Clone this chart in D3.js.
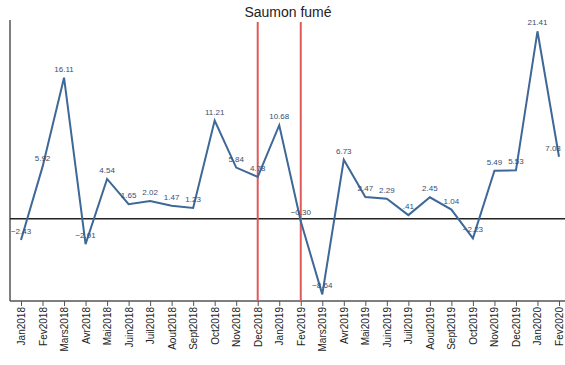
<!DOCTYPE html>
<html>
<head>
<meta charset="utf-8">
<script src="https://cdn.jsdelivr.net/npm/d3@7"></script>
<style>
  body { margin: 0; background: #fff; }
  svg { display: block; font-family: Arial, "Liberation Sans", sans-serif; }
</style>
</head>
<body>
<div id="body"></div>
<script>
var months = ["Jan2018","Fev2018","Mars2018","Avr2018","Mai2018","Juin2018","Juil2018","Aout2018","Sept2018","Oct2018","Nov2018","Dec2018",
              "Jan2019","Fev2019","Mars2019","Avr2019","Mai2019","Juin2019","Juil2019","Aout2019","Sept2019","Oct2019","Nov2019","Dec2019",
              "Jan2020","Fev2020"];
var values = [-2.43, 5.92, 16.11, -2.91, 4.54, 1.65, 2.02, 1.47, 1.23, 11.21, 5.84, 4.78,
              10.68, -0.30, -8.64, 6.73, 2.47, 2.29, 0.41, 2.45, 1.04, -2.23, 5.49, 5.53,
              21.41, 7.08];
var markers = ["Dec2018", "Fev2019"];
var title = "Saumon fumé";

var width = 565, height = 365;

var data = months.map(function(m, i) { return {month: m, value: values[i]}; });

var x = d3.scalePoint()
    .domain(months)
    .range([21, 559]);

var y = d3.scaleLinear()
    .domain([-9.4, 22.7])
    .range([301, 20]);

var svg = d3.select("#body").append("svg")
    .attr("width", width)
    .attr("height", height);

svg.append("text")
    .attr("x", 288)
    .attr("y", 17)
    .attr("text-anchor", "middle")
    .attr("font-size", 14)
    .attr("fill", "#222")
    .text(title);

// left axis line
svg.append("line")
    .attr("x1", 10).attr("x2", 10)
    .attr("y1", y.range()[1]).attr("y2", y.range()[0])
    .attr("stroke", "#555").attr("stroke-width", 1.5);

// bottom axis
var xAxis = d3.axisBottom(x).tickSize(5).tickPadding(4);
var gx = svg.append("g")
    .attr("transform", "translate(0," + y.range()[0] + ")")
    .call(xAxis);
gx.select(".domain").attr("d", "M10,0H565").attr("stroke", "#555").attr("stroke-width", 1.5);
gx.selectAll(".tick line").attr("stroke", "#555");
gx.selectAll(".tick text")
    .attr("font-size", 10)
    .attr("fill", "#222")
    .attr("text-anchor", "end")
    .attr("transform", "rotate(-90)")
    .attr("x", -6)
    .attr("y", 0)
    .attr("dy", "0.35em");

// zero line
svg.append("line")
    .attr("x1", 10).attr("x2", width)
    .attr("y1", y(0)).attr("y2", y(0))
    .attr("stroke", "#222").attr("stroke-width", 1.5);

// red markers
svg.selectAll(".marker")
    .data(markers)
  .enter().append("line")
    .attr("class", "marker")
    .attr("x1", function(d) { return x(d); })
    .attr("x2", function(d) { return x(d); })
    .attr("y1", 22)
    .attr("y2", y.range()[0])
    .attr("stroke", "#e05a5a")
    .attr("stroke-width", 2);

var line = d3.line()
    .x(function(d) { return x(d.month); })
    .y(function(d) { return y(d.value); });

svg.append("path")
    .datum(data)
    .attr("d", line)
    .attr("fill", "none")
    .attr("stroke", "#3d6897")
    .attr("stroke-width", 2);

var fmt = d3.format(".2f");
svg.selectAll(".lbl")
    .data(data)
  .enter().append("text")
    .attr("class", "lbl")
    .attr("x", function(d) { return Math.min(x(d.month), width - 12); })
    .attr("y", function(d) { return y(d.value) - 6; })
    .attr("text-anchor", "middle")
    .attr("font-size", 8)
    .attr("fill", "#3a4d6e")
    .text(function(d) { return fmt(d.value).replace(/^0\./, "."); });
</script>
</body>
</html>
